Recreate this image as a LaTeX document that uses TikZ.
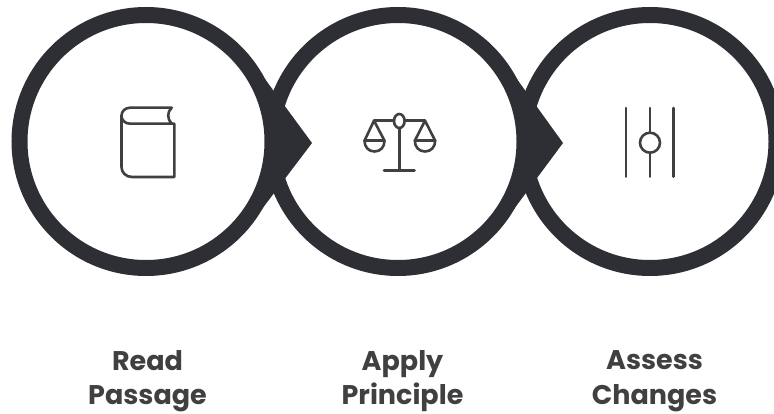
\documentclass[tikz,border=0pt]{standalone}
\usepackage{fontspec}
\setmainfont{Poppins}[BoldFont={Poppins Bold}]
\definecolor{ringc}{HTML}{2E2F34}
\definecolor{iconc}{HTML}{413F3F}
\definecolor{textc}{HTML}{404040}
\tikzset{
  x=1pt,y=-1pt,
  ring/.style={circle,draw=ringc,line width=16pt,fill=white,minimum size=253pt,inner sep=0pt},
  pointer/.style={fill=ringc,draw=none},
  icon/.style={draw=iconc,line width=2.6pt,line cap=round,line join=round},
  caption/.style={align=center,font=\fontsize{27}{34.5}\selectfont\bfseries,text=textc,inner sep=0pt}
}
\begin{document}
\begin{tikzpicture}
\useasboundingbox (0,0) rectangle (774,414);
\clip (0,0) rectangle (774,414);
\node[ring] (c3) at (650,141.5) {};
\fill[pointer] (514,75) -- (563,143) -- (514,209) -- cycle;
\node[ring] (c2) at (398,141.5) {};
\fill[pointer] (262,75) -- (312,143) -- (262,209) -- cycle;
\node[ring] (c1) at (146,141.5) {};
% book
\draw[icon] (171.7,107.7) -- (130,107.7) .. controls (125,107.7) and (121.5,111.5) .. (121.5,115.7)
  .. controls (121.5,120) and (125,123.7) .. (130,123.7) -- (171.7,123.7)
  .. controls (167,119) and (167,112) .. (171.7,107.7);
\draw[icon] (171.7,123.7) -- (174.3,123.7) -- (174.3,177) -- (132,177)
  .. controls (126,177) and (121.5,172.5) .. (121.5,167) -- (121.5,115.7);
% scales
\draw[icon] (399.3,128) -- (399.3,170.5);
\draw[icon] (384,170.5) -- (414.5,170.5);
\draw[icon] (374,120.7) -- (394,120.7) (405,120.7) -- (425,120.7);
\draw[icon] (399.3,121) ellipse[x radius=5.3,y radius=7];
\draw[icon] (374,120.7) -- (364.5,140.7) .. controls (364.5,147) and (368.5,151.5) .. (374.5,151.5)
  .. controls (380.5,151.5) and (384.5,147) .. (384.5,140.7) -- cycle;
\draw[icon] (364.5,140.7) -- (384.5,140.7);
\draw[icon] (425,120.7) -- (414.8,140.7) .. controls (414.8,147) and (419,151.5) .. (425,151.5)
  .. controls (431,151.5) and (435.2,147) .. (435.2,140.7) -- cycle;
\draw[icon] (414.8,140.7) -- (435.2,140.7);
% sliders
\draw[icon] (626,108) -- (626,176.7);
\draw[icon] (673.5,108) -- (673.5,176.7);
\draw[icon] (650,108) -- (650,132.7) (650,152.7) -- (650,176.7);
\draw[icon] (650,142.7) circle[radius=10];
\node[caption] (t1) at (147.5,381) {Read\\Passage};
\node[caption] (t2) at (402.5,381) {Apply\\Principle};
\node[caption] (t3) at (654.5,381) {Assess\\Changes};
\end{tikzpicture}
\end{document}
